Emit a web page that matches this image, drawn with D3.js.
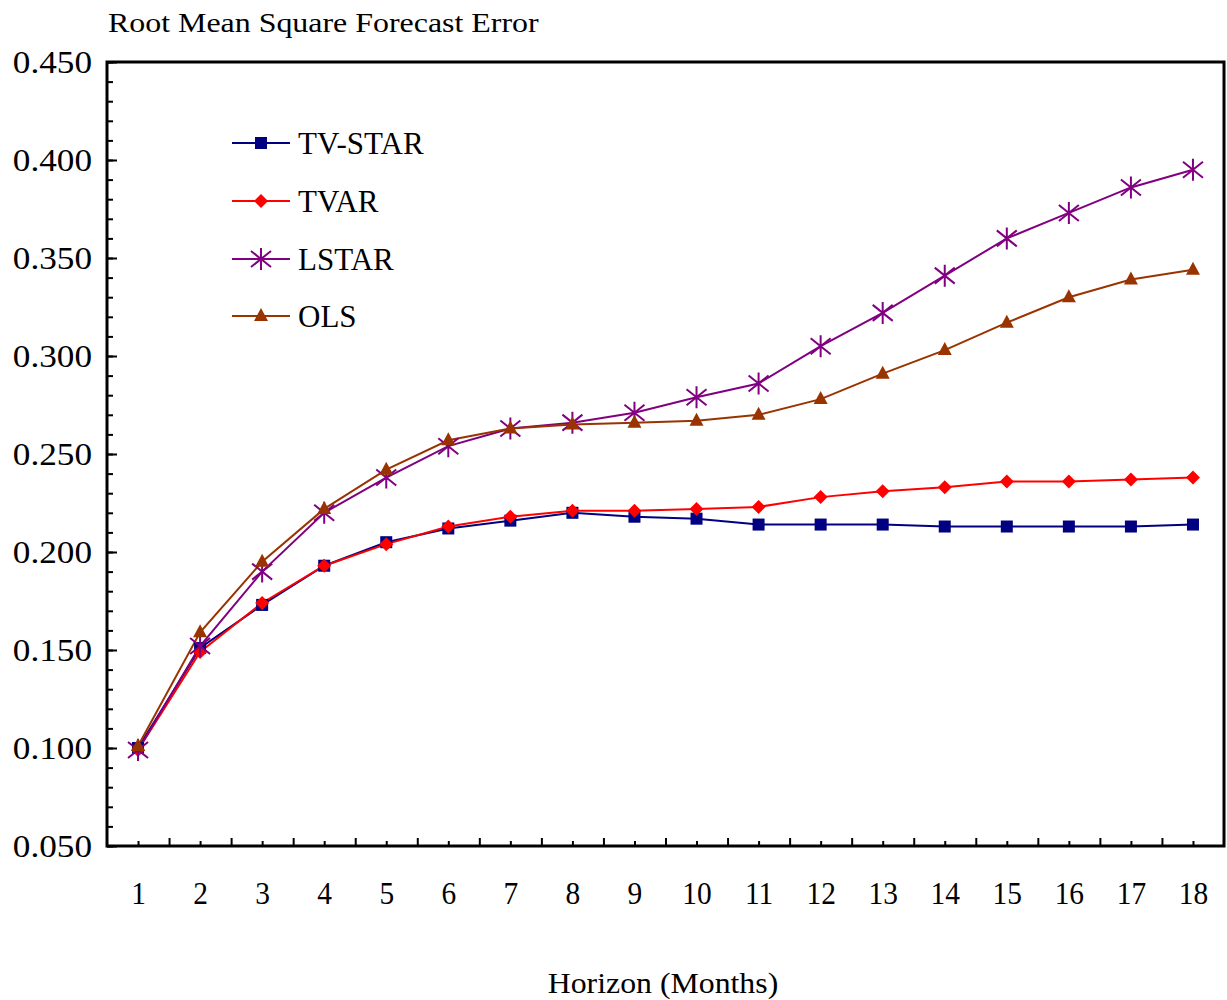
<!DOCTYPE html>
<html>
<head>
<meta charset="utf-8">
<script src="https://cdn.jsdelivr.net/npm/d3@7"></script>
<style>
  body { margin: 0; background: #fff; }
  text { font-family: "Liberation Serif", "Times New Roman", serif; fill: #000; }
</style>
</head>
<body>
<div id="chart"></div>
<script>
const horizons = [1, 2, 3, 4, 5, 6, 7, 8, 9, 10, 11, 12, 13, 14, 15, 16, 17, 18];
const tvstar = [0.100, 0.151, 0.173, 0.193, 0.205, 0.212, 0.216, 0.220, 0.218, 0.217, 0.214, 0.214, 0.214, 0.213, 0.213, 0.213, 0.213, 0.214];
const tvar   = [0.099, 0.149, 0.174, 0.193, 0.204, 0.213, 0.218, 0.221, 0.221, 0.222, 0.223, 0.228, 0.231, 0.233, 0.236, 0.236, 0.237, 0.238];
const lstar  = [0.099, 0.152, 0.190, 0.220, 0.238, 0.254, 0.263, 0.266, 0.271, 0.279, 0.286, 0.305, 0.322, 0.341, 0.360, 0.373, 0.386, 0.395];
const ols    = [0.101, 0.159, 0.195, 0.222, 0.242, 0.257, 0.263, 0.265, 0.266, 0.267, 0.270, 0.278, 0.291, 0.303, 0.317, 0.330, 0.339, 0.344];
const yTicks = [0.05, 0.10, 0.15, 0.20, 0.25, 0.30, 0.35, 0.40, 0.45];

const series = [
  { name: "TV-STAR", values: tvstar, color: "#000080", marker: "square" },
  { name: "TVAR",    values: tvar,   color: "#ff0000", marker: "diamond" },
  { name: "LSTAR",   values: lstar,  color: "#800080", marker: "star" },
  { name: "OLS",     values: ols,    color: "#993300", marker: "triangle" }
];

const width = 1227, height = 1000;
const margin = { left: 107, right: 3, top: 62, bottom: 154 };

const svg = d3.select("#chart").append("svg")
  .attr("width", width)
  .attr("height", height);

const x = d3.scaleLinear().domain([0.5, 18.5]).range([margin.left, width - margin.right]);
const y = d3.scaleLinear().domain([0.05, 0.45]).range([height - margin.bottom, margin.top]);

// widen/narrow text around its own x anchor (the original's type is a bit stretched)
function stretch(sel, sx) {
  sel.each(function() {
    const t = d3.select(this);
    const tx = +t.attr("x") || 0;
    t.attr("transform", `translate(${tx * (1 - sx)},0) scale(${sx},1)`);
  });
}

// y minor ticks
svg.append("g")
  .attr("transform", `translate(${margin.left},0)`)
  .call(d3.axisLeft(y).tickValues(d3.range(5, 46).map(d => d / 100)).tickSize(-6).tickFormat(""))
  .call(g => g.select(".domain").remove())
  .selectAll("line").attr("stroke", "#000").attr("stroke-width", 2);

// y major ticks + labels
const yAxis = svg.append("g")
  .attr("transform", `translate(${margin.left},0)`)
  .call(d3.axisLeft(y).tickValues(yTicks).tickSize(-10).tickPadding(15).tickFormat(d3.format(".3f")));
yAxis.select(".domain").remove();
yAxis.selectAll("line").attr("stroke", "#000").attr("stroke-width", 2);
yAxis.selectAll("text")
  .style("font-family", "Liberation Serif")
  .style("font-size", "32px")
  .attr("fill", "#000")
  .attr("x", -15)
  .call(stretch, 1.1);

// x ticks at category boundaries
svg.append("g")
  .attr("transform", `translate(0,${height - margin.bottom})`)
  .call(d3.axisBottom(x).tickValues(d3.range(1.5, 18.5, 1)).tickSize(-8).tickFormat(""))
  .call(g => g.select(".domain").remove())
  .selectAll("line").attr("stroke", "#000").attr("stroke-width", 2);

// x ticks at categories + labels
const xAxis = svg.append("g")
  .attr("transform", `translate(0,${height - margin.bottom})`)
  .call(d3.axisBottom(x).tickValues(horizons).tickSize(-5).tickPadding(36).tickFormat(d3.format("d")));
xAxis.select(".domain").remove();
xAxis.selectAll("line").attr("stroke", "#000").attr("stroke-width", 2);
xAxis.selectAll("text")
  .style("font-family", "Liberation Serif")
  .style("font-size", "31px")
  .attr("fill", "#000")
  .attr("transform", "scale(0.95,1)");

// plot frame
svg.append("rect")
  .attr("x", margin.left)
  .attr("y", margin.top)
  .attr("width", width - margin.left - margin.right)
  .attr("height", height - margin.top - margin.bottom)
  .attr("fill", "none")
  .attr("stroke", "#000")
  .attr("stroke-width", 3);

// markers
function drawMarker(g, type, color) {
  if (type === "square") {
    g.append("rect").attr("x", -6).attr("y", -6).attr("width", 12).attr("height", 12).attr("fill", color);
  } else if (type === "diamond") {
    g.append("path").attr("d", "M0,-7L7,0L0,7L-7,0Z").attr("fill", color);
  } else if (type === "triangle") {
    g.append("path").attr("d", "M0,-8L7,5L-7,5Z").attr("fill", color);
  } else if (type === "star") {
    g.append("path")
      .attr("d", "M0,-11V11M-10,-8L10,8M-10,8L10,-8")
      .attr("stroke", color).attr("stroke-width", 2).attr("fill", "none");
  }
}

const line = d3.line().x((d, i) => x(horizons[i])).y(d => y(d));

series.forEach(s => {
  svg.append("path")
    .datum(s.values)
    .attr("d", line)
    .attr("fill", "none")
    .attr("stroke", s.color)
    .attr("stroke-width", 2);
});

series.forEach(s => {
  s.values.forEach((v, i) => {
    const g = svg.append("g").attr("transform", `translate(${x(horizons[i])},${y(v)})`);
    drawMarker(g, s.marker, s.color);
  });
});

// legend
const legendY = [143, 201, 259, 316];
series.forEach((s, i) => {
  const g = svg.append("g").attr("transform", `translate(232,${legendY[i]})`);
  g.append("line").attr("x1", 0).attr("x2", 58).attr("y1", 0).attr("y2", 0)
    .attr("stroke", s.color).attr("stroke-width", 2);
  const m = g.append("g").attr("transform", "translate(29,0)");
  drawMarker(m, s.marker, s.color);
  g.append("text")
    .attr("x", 66)
    .attr("y", 0)
    .attr("dy", "0.35em")
    .style("font-size", "31px")
    .text(s.name);
});

// titles
svg.append("text")
  .attr("x", 108)
  .attr("y", 32)
  .style("font-size", "28px")
  .text("Root Mean Square Forecast Error")
  .call(stretch, 1.14);

svg.append("text")
  .attr("x", 663)
  .attr("y", 993)
  .attr("text-anchor", "middle")
  .style("font-size", "30px")
  .text("Horizon (Months)")
  .call(stretch, 1.06);
</script>
</body>
</html>
